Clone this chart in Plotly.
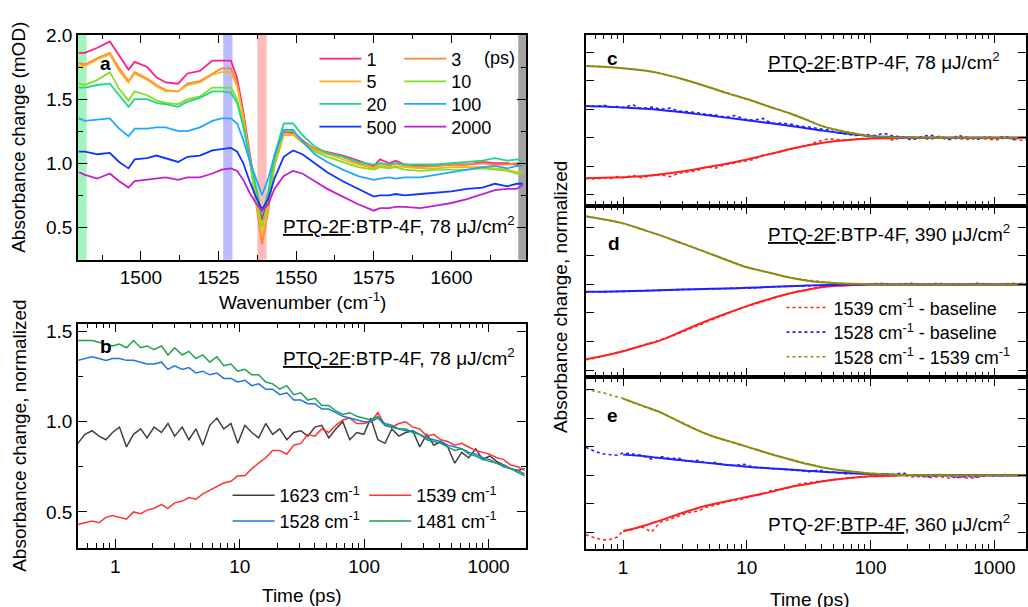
import math
import plotly.graph_objects as go

# ---------------- Panel a : transient spectra ----------------
wn = [1480, 1482, 1486, 1490, 1493, 1496, 1498, 1502, 1505, 1508, 1512, 1515, 1519, 1523,
      1526, 1529, 1531, 1533, 1535, 1537, 1539, 1541, 1543, 1546, 1549, 1552, 1556, 1560,
      1565, 1570, 1575, 1577, 1580, 1582, 1585, 1590, 1595, 1600, 1605, 1610, 1614, 1618,
      1621, 1623]
delays = ["1", "3", "5", "10", "20", "100", "500", "2000"]
s1 = [1.86, 1.86, 1.90, 1.95, 1.84, 1.73, 1.79, 1.75, 1.67, 1.63, 1.62, 1.70, 1.72, 1.80,
      1.80, 1.80, 1.66, 1.40, 1.08, 0.80, 0.56, 0.75, 1.02, 1.24, 1.24, 1.18, 1.11, 1.09,
      1.06, 1.02, 0.98, 1.03, 1.00, 1.02, 0.99, 0.98, 0.98, 0.99, 0.99, 1.01, 1.00, 1.00,
      0.99, 1.00]
s3 = [1.78, 1.77, 1.82, 1.86, 1.74, 1.64, 1.71, 1.66, 1.61, 1.57, 1.56, 1.62, 1.64, 1.70,
      1.74, 1.74, 1.62, 1.36, 1.02, 0.70, 0.37, 0.62, 0.98, 1.22, 1.23, 1.17, 1.11, 1.08,
      1.05, 1.00, 0.97, 1.00, 0.98, 1.00, 0.98, 0.97, 0.98, 0.99, 0.99, 1.00, 0.99, 0.99,
      1.00, 0.99]
s5 = [1.76, 1.76, 1.81, 1.85, 1.72, 1.63, 1.70, 1.65, 1.60, 1.56, 1.56, 1.61, 1.63, 1.69,
      1.71, 1.71, 1.60, 1.36, 1.04, 0.74, 0.42, 0.65, 0.98, 1.22, 1.22, 1.16, 1.10, 1.07,
      1.03, 0.99, 0.96, 0.98, 0.97, 0.98, 0.97, 0.96, 0.96, 0.97, 0.97, 0.97, 0.96, 0.95,
      0.93, 0.93]
s10 = [1.62, 1.61, 1.65, 1.71, 1.58, 1.49, 1.56, 1.53, 1.49, 1.47, 1.46, 1.50, 1.52, 1.59,
       1.59, 1.59, 1.50, 1.30, 1.02, 0.76, 0.50, 0.70, 1.00, 1.25, 1.25, 1.17, 1.09, 1.05,
       1.01, 0.97, 0.95, 0.97, 0.96, 0.97, 0.95, 0.94, 0.95, 0.95, 0.95, 0.96, 0.95, 0.94,
       0.92, 0.92]
s20 = [1.59, 1.59, 1.61, 1.62, 1.53, 1.44, 1.50, 1.50, 1.47, 1.46, 1.44, 1.48, 1.51, 1.56,
       1.56, 1.55, 1.47, 1.28, 1.05, 0.82, 0.60, 0.78, 1.06, 1.31, 1.31, 1.22, 1.13, 1.08,
       1.05, 1.01, 0.99, 1.00, 0.99, 1.00, 0.99, 0.99, 0.99, 1.00, 1.01, 1.02, 1.04, 1.02,
       1.03, 1.02]
s100 = [1.35, 1.33, 1.34, 1.35, 1.27, 1.21, 1.27, 1.27, 1.28, 1.28, 1.25, 1.25, 1.28, 1.33,
        1.35, 1.35, 1.31, 1.18, 1.02, 0.88, 0.75, 0.88, 1.06, 1.26, 1.26, 1.17, 1.07, 1.01,
        0.95, 0.90, 0.87, 0.88, 0.89, 0.88, 0.89, 0.89, 0.91, 0.93, 0.95, 0.97, 0.98, 0.96,
        0.98, 0.98]
s500 = [1.09, 1.09, 1.07, 1.08, 1.01, 0.96, 1.03, 1.04, 1.06, 1.04, 1.01, 1.05, 1.06, 1.10,
        1.11, 1.12, 1.09, 1.00, 0.86, 0.74, 0.64, 0.72, 0.88, 1.05, 1.10, 1.07, 1.00, 0.93,
        0.86, 0.80, 0.74, 0.75, 0.75, 0.76, 0.75, 0.76, 0.77, 0.78, 0.80, 0.81, 0.84, 0.82,
        0.84, 0.84]
s2000 = [0.93, 0.91, 0.88, 0.92, 0.86, 0.81, 0.86, 0.87, 0.88, 0.89, 0.87, 0.89, 0.89, 0.92,
         0.95, 0.96, 0.94, 0.87, 0.77, 0.69, 0.63, 0.68, 0.80, 0.90, 0.94, 0.92, 0.86, 0.80,
         0.74, 0.68, 0.63, 0.65, 0.65, 0.66, 0.66, 0.65, 0.67, 0.69, 0.72, 0.76, 0.79, 0.80,
         0.80, 0.83]
spectra = [s1, s3, s5, s10, s20, s100, s500, s2000]
spec_colors = ["#ff1f8a", "#ff8232", "#ffb020", "#7ee020", "#1ed884", "#20a8ff", "#1034ff", "#c020d0"]
bands = [1481, 1528, 1539, 1623]
band_colors = ["rgba(120,240,160,0.7)", "rgba(150,150,255,0.65)", "rgba(255,150,150,0.65)",
               "rgba(140,140,140,0.8)"]

# ---------------- Panel b : kinetics ----------------
t_b = [0.5, 0.57, 0.65, 0.74, 0.84, 0.95, 1.08, 1.23, 1.4, 1.6, 1.8, 2.05, 2.35, 2.65, 3.0,
       3.45, 3.9, 4.45, 5.05, 5.75, 6.55, 7.45, 8.5, 9.65, 11, 12.5, 14.2, 16.2, 18.4, 21,
       23.9, 27.2, 31, 35.3, 40.2, 45.7, 52, 59.2, 67.4, 76.7, 87.3, 99.4, 113, 129, 147,
       167, 190, 216, 246, 280, 319, 363, 413, 470, 535, 609, 693, 789, 898, 1022, 1163,
       1324, 1507, 1715, 1952]
k1623 = [0.88, 0.93, 0.95, 0.92, 0.90, 0.94, 0.97, 0.86, 0.93, 0.96, 0.91, 0.97, 0.94, 0.99,
         0.92, 0.97, 0.90, 0.96, 0.87, 0.98, 1.02, 0.96, 0.99, 0.88, 0.98, 0.94, 0.91, 0.99,
         0.93, 0.96, 0.90, 0.94, 0.95, 0.92, 0.97, 0.98, 0.91, 0.96, 1.00, 0.90, 0.94, 0.93,
         1.02, 0.90, 0.88, 0.96, 0.92, 0.94, 0.95, 0.86, 0.93, 0.87, 0.89, 0.86, 0.77, 0.83,
         0.80, 0.85, 0.79, 0.81, 0.78, 0.76, 0.74, 0.73, 0.74]
k1539 = [0.43, 0.44, 0.45, 0.44, 0.47, 0.48, 0.47, 0.46, 0.50, 0.49, 0.51, 0.52, 0.54, 0.52,
         0.55, 0.56, 0.58, 0.57, 0.60, 0.62, 0.64, 0.66, 0.67, 0.70, 0.70, 0.74, 0.77, 0.80,
         0.84, 0.84, 0.82, 0.87, 0.88, 0.93, 0.92, 0.96, 0.94, 0.98, 1.01, 1.02, 0.99, 0.99,
         1.00, 1.05, 0.98, 0.97, 0.99, 1.00, 0.97, 0.96, 0.92, 0.93, 0.90, 0.89, 0.87, 0.88,
         0.86, 0.84, 0.83, 0.82, 0.80, 0.79, 0.76, 0.75, 0.73]
k1528 = [1.34, 1.35, 1.36, 1.35, 1.34, 1.35, 1.35, 1.34, 1.34, 1.33, 1.32, 1.32, 1.33, 1.29,
         1.31, 1.29, 1.30, 1.27, 1.28, 1.26, 1.27, 1.24, 1.24, 1.22, 1.23, 1.20, 1.21, 1.18,
         1.18, 1.15, 1.16, 1.12, 1.12, 1.10, 1.10, 1.07, 1.07, 1.05, 1.03, 1.02, 1.01, 1.00,
         1.00, 1.02, 0.98, 0.97, 0.96, 0.95, 0.95, 0.93, 0.91, 0.90, 0.89, 0.87, 0.86, 0.85,
         0.83, 0.82, 0.80, 0.79, 0.77, 0.76, 0.74, 0.73, 0.71]
k1481 = [1.45, 1.45, 1.45, 1.44, 1.43, 1.42, 1.43, 1.41, 1.45, 1.41, 1.42, 1.40, 1.42, 1.37,
         1.41, 1.37, 1.39, 1.35, 1.37, 1.33, 1.36, 1.31, 1.32, 1.28, 1.29, 1.26, 1.26, 1.22,
         1.21, 1.18, 1.20, 1.15, 1.16, 1.12, 1.13, 1.09, 1.09, 1.06, 1.04, 1.05, 1.03, 1.02,
         1.01, 1.03, 0.99, 0.98, 0.96, 0.96, 0.94, 0.93, 0.90, 0.89, 0.88, 0.86, 0.84, 0.85,
         0.82, 0.81, 0.79, 0.78, 0.77, 0.75, 0.74, 0.72, 0.70]
kin_names = ["1623 cm<sup>-1</sup>", "1539 cm<sup>-1</sup>", "1528 cm<sup>-1</sup>", "1481 cm<sup>-1</sup>"]
kin_data = [k1623, k1539, k1528, k1481]
kin_colors = ["#404040", "#ff3434", "#2272e2", "#1fa052"]

# ---------------- Panels c, d, e : normalized differences + fits ----------------
t_dat = [0.5, 0.6, 0.7, 0.8, 0.9, 1.0, 1.2, 1.4, 1.7, 2.0, 2.4, 2.8, 3.3, 4.0, 4.7, 5.6,
         6.7, 8.0, 9.5, 11.3, 13.5, 16, 19, 22.6, 27, 32, 38, 45, 54, 64, 76, 90, 107, 128,
         152, 181, 215, 256, 304, 362, 430, 512, 609, 724, 861, 1024, 1218, 1448, 1722, 1900]
t_fit = [0.5, 0.7, 1, 1.5, 2, 3, 4.6, 7, 10, 15, 22, 30, 40, 55, 75, 100, 150, 200, 400, 1000, 2000]

c_red = [-0.71, -0.72, -0.70, -0.71, -0.68, -0.70, -0.66, -0.70, -0.66, -0.65, -0.68, -0.62,
         -0.60, -0.57, -0.51, -0.53, -0.47, -0.44, -0.41, -0.38, -0.30, -0.28, -0.24, -0.20,
         -0.16, -0.12, -0.06, -0.02, -0.03, -0.04, -0.02, -0.01, 0.00, 0.00, -0.04, 0.01,
         -0.02, 0.00, -0.03, 0.03, -0.02, -0.01, -0.03, 0.00, -0.02, -0.04, 0.00, -0.02,
         -0.05, -0.03]
c_blue = [0.56, 0.55, 0.57, 0.54, 0.55, 0.53, 0.58, 0.51, 0.54, 0.50, 0.52, 0.47, 0.46, 0.44,
          0.41, 0.40, 0.36, 0.39, 0.33, 0.31, 0.34, 0.25, 0.26, 0.24, 0.20, 0.19, 0.16, 0.14,
          0.09, 0.07, 0.04, 0.06, 0.04, 0.08, 0.03, 0.02, -0.04, 0.02, 0.05, 0.00, -0.03,
          0.04, 0.00, -0.03, 0.02, -0.01, 0.03, -0.03, 0.01, -0.03]
c_olive = [1.26, 1.26, 1.25, 1.24, 1.23, 1.22, 1.21, 1.19, 1.16, 1.13, 1.09, 1.05, 1.00, 0.95,
           0.90, 0.85, 0.80, 0.74, 0.69, 0.64, 0.58, 0.53, 0.48, 0.43, 0.37, 0.30, 0.23, 0.18,
           0.14, 0.10, 0.07, 0.04, 0.03, 0.01, 0.02, 0.00, 0.01, -0.01, 0.00, 0.01, 0.00,
           -0.01, 0.00, 0.01, 0.00, 0.00, -0.01, 0.00, 0.01, 0.00]
c_red_fit = [-0.71, -0.70, -0.69, -0.67, -0.64, -0.59, -0.52, -0.45, -0.38, -0.29, -0.20, -0.14,
             -0.09, -0.05, -0.03, -0.01, -0.005, 0, 0, 0, 0]
c_blue_fit = [0.56, 0.55, 0.53, 0.51, 0.49, 0.45, 0.40, 0.35, 0.31, 0.26, 0.21, 0.17, 0.13, 0.09,
              0.06, 0.03, 0.015, 0.005, 0, 0, 0]
c_olive_fit = [1.26, 1.245, 1.22, 1.18, 1.13, 1.03, 0.91, 0.78, 0.68, 0.55, 0.43, 0.32, 0.21, 0.13,
               0.07, 0.03, 0.01, 0.005, 0, 0, 0]

d_red = [-1.32, -1.29, -1.25, -1.22, -1.20, -1.17, -1.12, -1.08, -1.02, -0.97, -0.92, -0.86,
         -0.80, -0.72, -0.66, -0.59, -0.52, -0.46, -0.40, -0.35, -0.29, -0.24, -0.19, -0.15,
         -0.11, -0.08, -0.05, -0.03, -0.02, -0.01, 0.00, 0.01, 0.01, 0.02, 0.00, 0.01, 0.02,
         0.00, 0.01, 0.02, 0.00, 0.01, 0.00, 0.02, 0.01, 0.00, 0.01, 0.02, 0.00, 0.01]
d_blue = [-0.13, -0.13, -0.13, -0.12, -0.12, -0.12, -0.12, -0.11, -0.11, -0.10, -0.10, -0.09,
          -0.09, -0.08, -0.08, -0.08, -0.07, -0.07, -0.06, -0.06, -0.05, -0.04, -0.04, -0.03,
          -0.03, -0.02, -0.02, -0.01, -0.01, 0.00, 0.00, 0.00, 0.01, 0.00, 0.00, 0.01, 0.00,
          0.00, 0.01, 0.00, 0.00, -0.01, 0.00, 0.01, 0.00, 0.00, 0.01, 0.00, 0.01, 0.00]
d_olive = [1.20, 1.17, 1.14, 1.12, 1.09, 1.07, 1.02, 0.97, 0.91, 0.86, 0.80, 0.75, 0.69, 0.62,
           0.56, 0.50, 0.44, 0.38, 0.32, 0.27, 0.23, 0.19, 0.15, 0.12, 0.09, 0.07, 0.05, 0.03,
           0.02, 0.01, 0.01, 0.00, 0.00, 0.01, 0.00, 0.00, 0.01, 0.00, -0.01, 0.00, 0.00, 0.01,
           0.00, 0.00, 0.01, 0.00, 0.00, 0.01, 0.02, 0.01]
d_red_fit = [-1.31, -1.25, -1.17, -1.06, -0.98, -0.82, -0.65, -0.50, -0.38, -0.26, -0.16, -0.10,
             -0.05, -0.025, -0.01, 0, 0, 0, 0, 0, 0]
d_blue_fit = [-0.13, -0.128, -0.12, -0.11, -0.10, -0.09, -0.08, -0.07, -0.06, -0.045, -0.03, -0.02,
              -0.013, -0.007, -0.003, 0, 0, 0, 0, 0, 0]
d_olive_fit = [1.19, 1.14, 1.07, 0.95, 0.86, 0.72, 0.57, 0.42, 0.30, 0.21, 0.12, 0.07, 0.04, 0.02,
               0.01, 0, 0, 0, 0, 0, 0]

e_red = [-1.04, -1.10, -1.13, -1.12, -1.08, -0.97, -0.95, -0.90, -0.99, -0.82, -0.77, -0.72,
         -0.66, -0.63, -0.56, -0.52, -0.47, -0.44, -0.41, -0.36, -0.33, -0.26, -0.25, -0.21,
         -0.15, -0.13, -0.11, -0.09, -0.06, -0.05, -0.04, -0.02, -0.01, -0.02, -0.01, 0.00,
         -0.03, -0.02, -0.04, -0.02, -0.05, -0.03, -0.05, -0.04, -0.01, 0.00, -0.02, 0.00,
         0.01, 0.00]
e_blue = [0.49, 0.41, 0.37, 0.36, 0.35, 0.39, 0.37, 0.35, 0.28, 0.33, 0.29, 0.30, 0.24, 0.26,
          0.21, 0.22, 0.18, 0.17, 0.19, 0.14, 0.13, 0.12, 0.11, 0.10, 0.08, 0.06, 0.09, 0.06,
          0.05, 0.02, 0.04, 0.02, 0.01, 0.03, 0.01, 0.04, 0.00, -0.01, -0.03, 0.01, -0.02,
          -0.04, -0.02, -0.03, 0.01, -0.02, 0.01, -0.01, 0.00, -0.01]
e_olive = [1.50, 1.47, 1.44, 1.40, 1.37, 1.34, 1.27, 1.22, 1.15, 1.10, 1.02, 0.95, 0.88, 0.79,
           0.72, 0.66, 0.61, 0.56, 0.52, 0.47, 0.41, 0.36, 0.31, 0.27, 0.23, 0.19, 0.15, 0.12,
           0.09, 0.07, 0.05, 0.04, 0.03, 0.02, 0.01, 0.01, 0.00, 0.00, 0.01, 0.00, 0.00, 0.00,
           0.01, 0.00, 0.00, 0.01, 0.00, 0.00, 0.00, 0.00]
e_red_fit = [None, None, -0.98, -0.88, -0.79, -0.66, -0.54, -0.45, -0.38, -0.30, -0.21, -0.16,
             -0.11, -0.07, -0.04, -0.02, -0.01, 0, 0, 0, 0]
e_blue_fit = [None, None, 0.36, 0.33, 0.30, 0.26, 0.22, 0.18, 0.15, 0.12, 0.10, 0.08, 0.06, 0.045,
              0.03, 0.02, 0.01, 0.005, 0, 0, 0]
e_olive_fit = [None, None, 1.34, 1.20, 1.10, 0.91, 0.73, 0.60, 0.50, 0.38, 0.28, 0.20, 0.14, 0.09,
               0.06, 0.03, 0.01, 0.005, 0, 0, 0]

diff_names = ["1539 cm<sup>-1</sup> - baseline", "1528 cm<sup>-1</sup> - baseline",
              "1528 cm<sup>-1</sup> - 1539 cm<sup>-1</sup>"]
diff_colors = ["#ff2020", "#2020ff", "#8c8c10"]

# ---------------- figure ----------------
W, H = 1028, 607
FONT = "Liberation Sans, Arial, sans-serif"


def px(x):
    return x / W


def py(y):
    return 1 - y / H


fig = go.Figure()
leg_layout = {}
leg_count = [0]
leg_base = dict(xanchor="left", yanchor="top", bgcolor="rgba(0,0,0,0)", borderwidth=0,
                font=dict(size=18, family=FONT, color="black"), itemwidth=42, tracegroupgap=0)


def new_legend(x_line, y_row):
    """one legend box per entry, positioned by the pixel place of its line"""
    leg_count[0] += 1
    key = "legend" if leg_count[0] == 1 else "legend%d" % leg_count[0]
    leg_layout[key] = dict(leg_base, x=px(x_line - 5), y=py(y_row - 18))
    return key


# panel a (legend: 2 columns x 4 rows)
a_cols = [315 + 5, 400 + 5]
a_rows = [49, 72, 95, 118]
for i, (name, vals, col) in enumerate(zip(delays, spectra, spec_colors)):
    lg = new_legend(a_cols[i % 2], a_rows[i // 2])
    fig.add_trace(go.Scatter(x=wn, y=vals, mode="lines", name=name,
                             line=dict(color=col, width=1.8), legend=lg,
                             xaxis="x", yaxis="y"))

# panel b
b_cols = [233, 370]
b_rows = [493, 519]
b_pos = [(0, 0), (1, 0), (0, 1), (1, 1)]
for (name, vals, col), (ci, ri) in zip(zip(kin_names, kin_data, kin_colors), b_pos):
    lg = new_legend(b_cols[ci], b_rows[ri])
    fig.add_trace(go.Scatter(x=t_b, y=vals, mode="lines", name=name,
                             line=dict(color=col, width=1.5), legend=lg,
                             xaxis="x2", yaxis="y2"))

# panels c, d, e
d_rows = [302, 327, 352]
panels = [
    ("x3", "y3", [c_red, c_blue, c_olive], [c_red_fit, c_blue_fit, c_olive_fit], False),
    ("x4", "y4", [d_red, d_blue, d_olive], [d_red_fit, d_blue_fit, d_olive_fit], True),
    ("x5", "y5", [e_red, e_blue, e_olive], [e_red_fit, e_blue_fit, e_olive_fit], False),
]
for xa, ya, dats, fits, show in panels:
    for k, (name, vals, col) in enumerate(zip(diff_names, dats, diff_colors)):
        kw = {}
        if show:
            kw["legend"] = new_legend(788, d_rows[k])
        fig.add_trace(go.Scatter(x=t_dat, y=vals, mode="lines", name=name,
                                 line=dict(color=col, width=1.6, dash="dot"),
                                 showlegend=show, xaxis=xa, yaxis=ya, **kw))
    for vals, col in zip(fits, diff_colors):
        fig.add_trace(go.Scatter(x=t_fit, y=vals, mode="lines", line_shape="spline",
                                 line=dict(color=col, width=2), showlegend=False,
                                 xaxis=xa, yaxis=ya))

# axes
TF = dict(size=19, family=FONT, color="black")
base = dict(showline=True, linecolor="black", linewidth=1.5, mirror="ticks", ticks="inside",
            ticklen=9, tickwidth=1.4, tickcolor="black", showgrid=False, zeroline=False,
            tickfont=TF)
minor_lin = dict(ticks="inside", ticklen=5, tickwidth=1.2, tickcolor="black", showgrid=False)
dec = [1, 10, 100, 1000]
minor_log = [m * d for d in [0.1, 1, 10, 100, 1000] for m in range(2, 10)]
minor_logd = dict(minor_lin, tickvals=minor_log)

xdom_l = [px(78), px(527)]
xdom_r = [px(587), 1.0]
rlog = [math.log10(0.5), math.log10(0.5) + 441 / 124]

fig.update_layout(
    width=W, height=H, margin=dict(l=0, r=0, t=0, b=0),
    paper_bgcolor="white", plot_bgcolor="white",
    font=dict(family=FONT, size=19, color="black"),
    xaxis=dict(base, domain=xdom_l, range=[1479.7, 1624], tickvals=[1500, 1525, 1550, 1575, 1600],
               minor=dict(minor_lin, dtick=12.5, tick0=1475), anchor="y"),
    yaxis=dict(base, domain=[py(254), py(25)], range=[0.247, 2.003], tickvals=[0.5, 1.0, 1.5, 2.0],
               ticktext=["0.5", "1.0", "1.5", "2.0"], minor=dict(minor_lin, dtick=0.25, tick0=0),
               anchor="x"),
    xaxis2=dict(base, type="log", domain=xdom_l, range=[math.log10(0.5), math.log10(2000)],
                tickvals=dec, ticktext=["1", "10", "100", "1000"], minor=minor_logd, anchor="y2"),
    yaxis2=dict(base, domain=[py(547), py(319)], range=[0.30, 1.543], tickvals=[0.5, 1.0, 1.5],
                ticktext=["0.5", "1.0", "1.5"], minor=dict(minor_lin, tickvals=[0.75, 1.25]),
                anchor="x2"),
    xaxis3=dict(base, type="log", domain=xdom_r, range=rlog, tickvals=dec, showticklabels=False,
                minor=minor_logd, anchor="y3"),
    yaxis3=dict(base, domain=[py(199), py(25)], range=[-1.19, 1.81], ticklen=8,
                tickvals=[-1, -0.5, 0, 0.5, 1, 1.5], showticklabels=False, anchor="x3"),
    xaxis4=dict(base, type="log", domain=xdom_r, range=rlog, tickvals=dec, showticklabels=False,
                minor=minor_logd, anchor="y4"),
    yaxis4=dict(base, domain=[py(373), py(199)], range=[-1.62, 1.38], ticklen=8,
                tickvals=[-1.5, -1, -0.5, 0, 0.5, 1], showticklabels=False, anchor="x4"),
    xaxis5=dict(base, type="log", domain=xdom_r, range=rlog, tickvals=dec,
                ticktext=["1", "10", "100", "1000"], minor=minor_logd, anchor="y5"),
    yaxis5=dict(base, domain=[py(548), py(373)], range=[-1.29, 1.72], ticklen=8,
                tickvals=[-1, -0.5, 0, 0.5, 1, 1.5], showticklabels=False, anchor="x5"),
    showlegend=True,
)
fig.update_layout(**leg_layout)

# highlight bands in panel a
for c, col in zip(bands, band_colors):
    fig.add_shape(type="rect", xref="x", yref="y domain", x0=c - 1.5, x1=c + 1.5, y0=0, y1=1,
                  fillcolor=col, line=dict(width=0), layer="below")

ann = []


def add_text(text, x, y, angle=0, xanchor="center", size=19, bold=False):
    if bold:
        text = "<b>" + text + "</b>"
    ann.append(dict(text=text, x=px(x), y=py(y), xref="paper", yref="paper", showarrow=False,
                    textangle=angle, xanchor=xanchor, yanchor="middle",
                    font=dict(size=size, family=FONT, color="black")))


add_text("Absorbance change (mOD)", 19, 129, angle=-90)
add_text("Wavenumber (cm<sup>-1</sup>)", 303, 296)
add_text("Absorbance change, normalized", 20, 432, angle=-90)
add_text("Time (ps)", 303, 595)
add_text("Absorbance change, normalized", 561, 291, angle=-90)
add_text("Time (ps)", 812, 599)
add_text("(ps)", 483, 49, xanchor="left", size=18)
add_text("a", 106, 54, bold=True)
add_text("b", 106, 342, bold=True)
add_text("c", 614, 49, bold=True)
add_text("d", 615, 237, bold=True)
add_text("e", 614, 412, bold=True)
add_text("<u>PTQ-2F</u>:BTP-4F, 78 μJ/cm<sup>2</sup>", 282, 219, xanchor="left")
add_text("<u>PTQ-2F</u>:BTP-4F, 78 μJ/cm<sup>2</sup>", 282, 353, xanchor="left")
add_text("<u>PTQ-2F</u>:BTP-4F, 78 μJ/cm<sup>2</sup>", 767, 52, xanchor="left")
add_text("<u>PTQ-2F</u>:BTP-4F, 390 μJ/cm<sup>2</sup>", 767, 227, xanchor="left")
add_text("PTQ-2F:<u>BTP-4F</u>, 360 μJ/cm<sup>2</sup>", 767, 522, xanchor="left")
fig.update_layout(annotations=ann)

fig.write_html("out.html")
